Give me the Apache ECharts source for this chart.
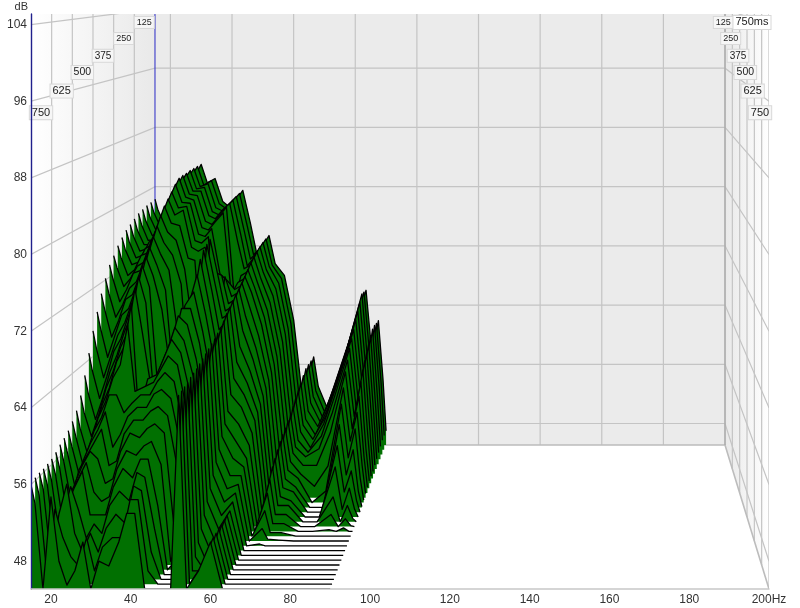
<!DOCTYPE html>
<html><head><meta charset="utf-8">
<style>html,body{margin:0;padding:0;background:#fff}#c{width:800px;height:608px}</style>
<script src="https://cdn.jsdelivr.net/npm/echarts@6/dist/echarts.min.js"></script>
</head><body><div id="c"></div>
<script>
// Frequencies (Hz) sampled for each time slice; slices are 25 ms apart (0..750 ms)
const freqs=[15,16,18,20,22,24,26,28,30,32,34.5,37,39,41,43.5,46,48,50,52,54,57,60,63,66.5,68,71,75,79,83.5,85.5,87.5,89,90];
const sliceMs=[0,25,50,75,100,125,150,175,200,225,250,275,300,325,350,375,400,425,450,475,500,525,550,575,600,625,650,675,700,725,750];
// dB level over the slices at each frequency
const lv15=[78.3,78.2,78.1,77.9,77.7,77.3,76.9,76.5,75.9,75.2,74.3,73.5,72.2,70.7,68.9,67,64.8,62.6,60.7,59.4,58.6,58,57.6,57.3,56.9,56.6,56.5,56.4,56.4,56.3,56];
const lv16=[76.8,76.8,76.6,76.4,76.2,75.8,75.4,75,74.4,73.7,72.8,71.8,70.4,68.8,66.9,64.9,62.7,60.5,58.7,57.4,56.8,56.2,55.8,55.5,55.2,54.9,54.8,54.7,54.7,54.5,54];
const lv18=[75,75,74.8,74.5,74.2,74,73.5,73,72.5,71.5,70.5,69,67.5,65.5,63.5,61.5,59.5,57.5,56,54.5,53.5,53,52,51,50,49.5,49,48,47,46,45];
const lv20=[74,74.2,74.5,74.5,74.3,74,73.8,73.3,72.8,72.2,71.5,70.5,69,67.5,66,64,62,60,58.5,57,56,55.5,55,54.5,53.5,53,52,51.5,52,53,54.7];
const lv22=[75.5,75.7,76,76,75.8,75.6,75.2,75,74.5,74,73,72.5,71,70,68.5,66.5,65,63,61.5,60,59,58,57,56,55.5,54.5,54,54.5,55.2,50,48];
const lv24=[76.5,76.5,76.7,76.8,76.7,76.5,76,75.5,75,74.3,73.5,72.8,71.8,70.6,69.3,68,66.5,65,63.5,62,60.8,59.5,58.5,57.5,57,56.2,55.7,52,50,48,45.5];
const lv26=[78.5,78.7,78.8,79,78.8,78.5,78.2,77.8,77.2,76.6,76,75,74,72.8,71.6,70.3,69,67.6,66.2,65,63.5,62,60.5,59,56.2,53,51,49,48,47,47];
const lv28=[81.5,81.7,81.7,81.7,81.5,81.3,81,80.3,79.6,78.8,78,77,75.8,74.6,73.4,72.2,71,69.6,68,66.6,65,62,56.6,55,53.5,52,51,50.5,50,50,50];
const lv30=[83,83,83,83,82.9,82.9,82.8,82.3,81.6,81,80.4,79.5,78.5,77.5,76.5,75.7,75,74,73,71.5,69.5,60,58,55.5,54,52.5,51,49.5,48,46.5,45];
const lv32=[80.5,80.5,80.6,80.6,80.6,80.5,80.4,80,79.6,79,78.3,77.5,76.5,75.5,74.5,73.5,72.5,71,68,59,62,61,60,58.5,57,55.5,54,52.5,50.5,49,48];
const lv34=[81.1,81.1,81,80.8,80.6,80.3,80,79.9,79.8,79.6,78,76.5,75,73.5,71.5,69.5,60,59,61.5,63,62.5,62,61,60,59,57.5,56,54,52,50,47.5];
const lv37=[78,78,77.8,77.6,77.4,77,76.5,76,75.5,75,74,73,71.5,66,60,62,64,64.5,64,63.5,63,62,61,60,58.5,57,55,53,51,50,50];
const lv39=[77.3,77.4,77.4,77.2,77,76.6,76.2,75.7,75.2,74.5,73.7,67,61,63,65,66,66.5,66.5,66,65.5,64.5,63.5,62.5,61,59.5,58,57,56,55,54,53];
const lv41=[78,78.2,78.2,78.1,78,77.6,77.2,76.7,76,75,63,65,67,68.5,69.5,70,70,69.5,68.5,67.5,66,64.5,63,61.5,60,58.5,57,55.5,54.5,54,53];
const lv43=[79.5,79.4,79.3,79.1,79,78.8,78.4,71,64,72,76.3,76,75.6,74.8,73.3,71.6,70,68.5,67,66,65,63.5,62,60.5,59,56,52,50,48,46.5,45];
const lv46=[75,75,74.8,74.5,74,67,68,70,71,71.5,71.5,71,70.5,69.5,68.5,67,66,64.5,63,61.5,60,58.5,57,55,49,45.5,45,45,45,45,45];
const lv48=[71,71.2,71,70.5,70.5,70,69.5,69,68.5,68,67.5,67,66,65,64,62.5,61,59.5,58,56.5,55,53.5,52,50.5,49,47.5,46,45,45,45,45];
const lv50=[72,72,71.8,71.5,71,70.5,70,69.5,69,68.5,68,67.5,67,66.5,66,65,64,63,62,60,58,56,54,52,50,48,46,45,45,45,45];
const lv52=[73.4,73.3,73.2,73,72.7,72.4,72,71.5,71,70.6,70.2,69.9,69.5,69.1,68.7,68.2,67.7,67.5,67.2,67,66.8,66.6,66.4,66.2,66,65.9,65.8,65.6,65.5,65.4,65.3];
const lv54=[69.6,69.8,70,70,70,69.8,69.5,69.3,69,68,66.8,65.5,64,62.5,61,59.5,58,57,56,55,54,53,52,51,50,49,48,47,46,45,45];
const lv57=[68,68,67.8,67.5,67,66.5,66,65.5,65,64,63,62,61,60,59,58,56.5,55,53.5,52,51,50,49,48,47,46,45,45,46,47,47];
const lv60=[62,62,61.8,61.5,61,60.5,60,59.5,59,58.5,58,57.5,57,56.5,56,55,54,53,52.5,52,51.5,51,50.5,50,50,50,50,50,50,50,50];
const lv63=[51,51,50.5,50,49.5,49,48.5,48,47,46,45,45,45,45,45,45,45,45,45,45,45,45,45,45,45,45,45,45,45,45,45];
const lv66=[57,57,57,57,56.6,56.2,55.7,55.2,54.7,54.2,54,53.6,53.3,53,52.5,52,51.5,50.5,49.5,48,46.5,45.3,45,45,45,45,45,45,45,45,45];
const lv68=[53,53,52.8,52.5,52,51.5,51.3,51,50.5,50.2,50,49.5,49,48.5,48,47.5,47,46.5,46,45.5,45.3,45,45,45,45,45,45,45,45,45,45];
const lv71=[50,50,50,50,50,49.5,49.5,49,49,49,48.5,48,48,47.5,47.5,47,47,46.5,46,45.5,45.2,45,45,45,45,45,45,45,45,45,45];
const lv75=[55,55,54.5,54,53.5,53,52.5,52,51,50,48.5,46.5,45,45,45,45,45,45,45,45,45,45,45,45,45,45,45,45,45,45,45];
const lv79=[60,60,59.5,59,58.5,58,57.5,57,56,54.5,52.5,49,46.5,45,45,45,45,45,45,45,45,45,45,45,45,45,45,45,45,45,45];
const lv83=[66,66.2,66.4,65.7,65,64.3,63.5,62.8,62,61,60,58.5,57,55,53,51,48,46.5,45.3,45,45,45,45,45,45,45,45,45,45,45,45];
const lv85=[57,57,56.5,56.5,56,56,55.5,55,54.5,54,53,52,50.5,49,47.5,46,45,45,45,45,45,45,45,45,45,45,45,45,45,45,45];
const lv87=[61.9,62,62.2,62.2,61.8,61.2,60.5,60,59.3,58.3,57,55.5,54,52,50,48.5,47,46,45.5,45,45,45,45,45,45,45,45,45,45,45,45];
const lv89=[54,54,54,53.5,53,52.5,52,51.5,51,50,49.5,49,48,47,46.5,46,45.5,45.2,45,45,45,45,45,45,45,45,45,45,45,45,45];
const lv90=[47,47,47,46.8,46.6,46.4,46.2,46,46,46,45.8,45.6,45.4,45.2,45,45,45,45,45,45,45,45,45,45,45,45,45,45,45,45,45];
const columns=[lv15,lv16,lv18,lv20,lv22,lv24,lv26,lv28,lv30,lv32,lv34,lv37,lv39,lv41,lv43,lv46,lv48,lv50,lv52,lv54,lv57,lv60,lv63,lv66,lv68,lv71,lv75,lv79,lv83,lv85,lv87,lv89,lv90];
// Axis ticks
const freqTicks=[20,40,60,80,100,120,140,160,180,200];
const dbTicks=[48,56,64,72,80,88,96,104];
const timeTicks=[125,250,375,500,625,750];
const timeLabelDb=[102.6,101,99.4,98,96.5,94.8];

const F0=15,F1=200,DB0=45.1,DB1=105.1,T1=750,BACK=0.7724,BX0=46.08,BY0=60.13;
function proj(f,db,ms){
  const u=ms/T1;
  const bx=BX0+(f-F0)*BACK, by=BY0+(db-DB0)*BACK;
  return [bx+(f-bx)*u, by+(db-by)*u];
}
const GL='#c4c4c4';
// wall / grid items
const items=[];
items.push({poly:[[F0,DB0,0],[F1,DB0,0],[F1,160,0],[F0,160,0]],fill:'#ebebeb'});
items.push({poly:[[F0,DB0,0],[F0,DB0,T1],[F0,160,T1],[F0,160,0]],fill:'L'});
items.push({poly:[[F1,DB0,0],[F1,DB0,T1],[F1,160,T1],[F1,160,0]],fill:'R'});
dbTicks.forEach(d=>{
  items.push({line:[[F0,d,T1],[F0,d,0],[F1,d,0],[F1,d,T1]],c:GL,w:1.2});
});
freqTicks.forEach(f=>items.push({line:[[f,DB0,0],[f,160,0]],c:GL,w:1.2}));
timeTicks.forEach(t=>{
  items.push({line:[[F0,DB0,t],[F0,160,t]],c:GL,w:1.2});
  items.push({line:[[F1,DB0,t],[F1,160,t]],c:GL,w:1.2});
});
items.push({line:[[F0,DB0,T1],[F0,DB0,0],[F1,DB0,0],[F1,DB0,T1]],c:'#bcbcbc',w:1.6});
items.push({line:[[F1,DB0,0],[F1,160,0]],c:'#a8a8a8',w:1.3});
items.push({line:[[F0,DB0,0],[F0,160,0]],c:'#3a3ac8',w:1.1});

const chart=echarts.init(document.getElementById('c'),null,{renderer:'canvas'});
function pts(api,list){return list.map(p=>api.coord(proj(p[0],p[1],p[2])));}
const base={type:'custom',coordinateSystem:'cartesian2d',clip:true,silent:true,animation:false,encode:{x:0,y:1}};
const grayGrad=(a,b)=>new echarts.graphic.LinearGradient(0,0,1,0,[{offset:0,color:a},{offset:1,color:b}]);
chart.setOption({
  animation:false,
  backgroundColor:'#fff',
  grid:{left:31,right:31,top:14,bottom:19,containLabel:false,show:false},
  xAxis:{type:'value',min:F0,max:F1,z:10,splitLine:{show:false},axisTick:{show:false},
    axisLine:{show:true,lineStyle:{color:'#c8c8c8',width:1.5}},
    axisLabel:{customValues:[15].concat(freqTicks),margin:5,color:'#333',fontFamily:'Liberation Sans',fontSize:12,hideOverlap:false,
      formatter:v=>v===15?'{c|15.0}':(v===200?'200Hz':String(v)),
      rich:{c:{color:'#2222bb',fontSize:13,fontFamily:'Liberation Sans',borderColor:'#2a2ad0',borderWidth:1,padding:[0,1,0,1],backgroundColor:'#fff',lineHeight:12}}}},
  yAxis:{type:'value',min:DB0,max:DB1,z:10,name:'dB',nameLocation:'end',nameGap:2,
    nameTextStyle:{color:'#333',fontFamily:'Liberation Sans',fontSize:11,align:'right',padding:[0,3,0,0]},
    splitLine:{show:false},axisTick:{show:false},
    axisLine:{show:true,lineStyle:{color:'#20208c',width:1.4}},
    axisLabel:{customValues:dbTicks,margin:4,color:'#333',fontFamily:'Liberation Sans',fontSize:12}},
  series:[
    Object.assign({},base,{z:1,data:items.map((_,i)=>[F0,DB0,i]),
      renderItem(p,api){
        const it=items[p.dataIndex];
        if(it.poly){
          const fill=it.fill==='L'?grayGrad('#ffffff','#e9e9e9'):it.fill==='R'?grayGrad('#e9e9e9','#ffffff'):it.fill;
          return {type:'polygon',shape:{points:pts(api,it.poly)},style:{fill:fill,stroke:null}};
        }
        return {type:'polyline',shape:{points:pts(api,it.line)},style:{fill:null,stroke:it.c,lineWidth:it.w}};
      }}),
    Object.assign({},base,{z:3,data:sliceMs.map((m,i)=>[F0,DB0,i]),
      renderItem(p,api){
        const k=p.dataIndex,ms=sliceMs[k];
        const top=freqs.map((f,j)=>api.coord(proj(f,Math.max(columns[j][k],DB0),ms)));
        const poly=top.concat([api.coord(proj(F1*0+90,DB0,ms)),api.coord(proj(F0,DB0,ms))]);
        return {type:'group',children:[
          {type:'polygon',shape:{points:poly},style:{fill:'#017001',stroke:null}},
          {type:'polyline',shape:{points:top},style:{fill:null,stroke:'#000',lineWidth:1.3,lineJoin:'round'}}
        ]};
      }}),
    Object.assign({},base,{z:4,clip:false,data:timeTicks.map((t,i)=>[F0,DB0,i]),
      renderItem(p,api){
        const i=p.dataIndex,t=timeTicks[i],d=timeLabelDb[i];
        const fs=[9,9,10,10.5,11,11][i];
        const lp=api.coord(proj(F0,d,t)), rp=api.coord(proj(F1,d,t));
        const rY=lp[1];
        const box={fontFamily:'Liberation Sans',fontSize:fs,fill:'#222',align:'center',verticalAlign:'middle',backgroundColor:'#f6f6f6',borderColor:'#d8d8d8',borderWidth:1,padding:[1,2,1,2]};
        const kids=[
          {type:'text',style:Object.assign({},box,{text:String(t),x:lp[0]+10,y:lp[1]})},
          {type:'text',style:Object.assign({},box,{text:String(t),x:rp[0]-9,y:rY})}
        ];
        if(t===125){
          const tr=api.coord(proj(F1,d,T1));
          kids.push({type:'text',style:Object.assign({},box,{text:'750ms',fontSize:11,x:tr[0]-17,y:rY,backgroundColor:'#fff'})});
        }
        return {type:'group',children:kids};
      }})
  ]
});
</script></body></html>
